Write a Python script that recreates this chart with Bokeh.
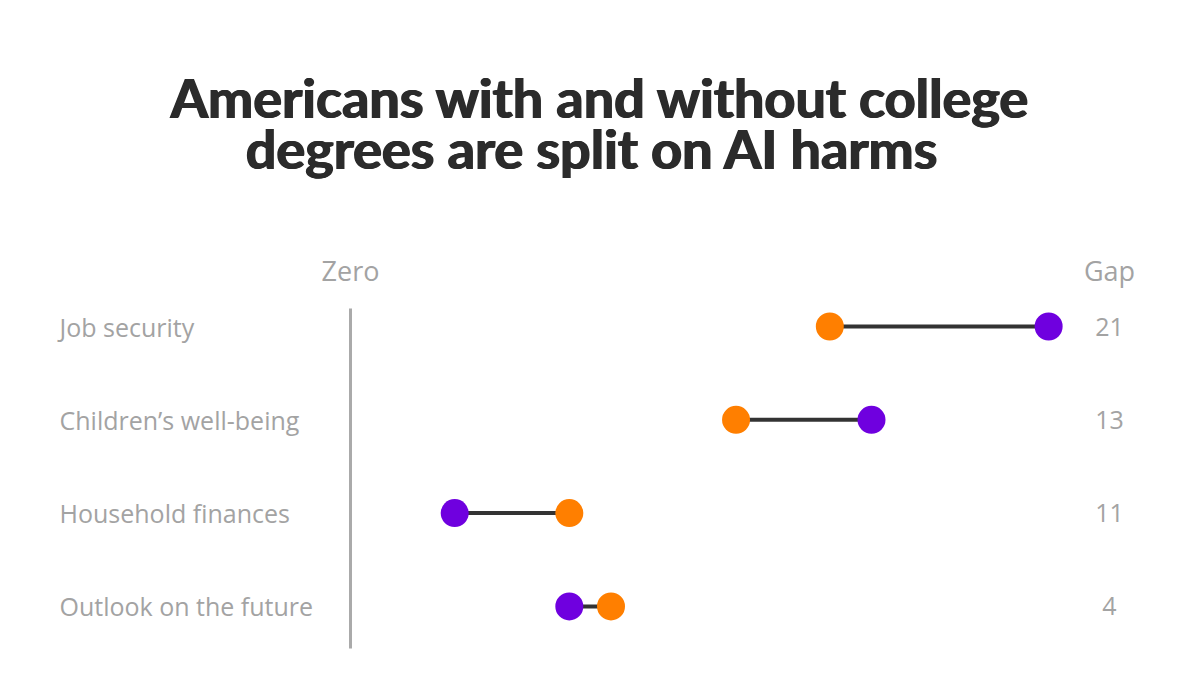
from bokeh.plotting import figure
from bokeh.models import Range1d, ColumnDataSource
from bokeh.core.properties import value
from bokeh.embed import file_html
from bokeh.resources import INLINE

# Data
categories = ["Job security", "Children\u2019s well-being", "Household finances", "Outlook on the future"]
orange_vals = [46, 37, 21, 25]
purple_vals = [67, 50, 10, 21]
gaps = [abs(a - b) for a, b in zip(orange_vals, purple_vals)]

W, H = 1200, 675
ZERO_PX = 350
PX_PER_UNIT = 10.42
ROW0, ROW_STEP = 326, 93.3

x0 = -ZERO_PX / PX_PER_UNIT
x1 = (W - ZERO_PX) / PX_PER_UNIT


def px(x):
    """Convert a horizontal pixel position into data units."""
    return (x - ZERO_PX) / PX_PER_UNIT


p = figure(width=W, height=H, output_backend="svg", toolbar_location=None,
           x_range=Range1d(x0, x1), y_range=Range1d(H, 0),
           min_border=0, outline_line_color=None)
p.axis.visible = False
p.grid.visible = False
p.background_fill_color = "white"
p.border_fill_color = "white"

rows = [ROW0 + i * ROW_STEP for i in range(len(categories))]
src = ColumnDataSource(dict(cat=categories, y=rows, o=orange_vals, pu=purple_vals,
                            gap=[str(g) for g in gaps]))

GRAY = "#a3a3a3"
FONT = value("Open Sans")

# title, stamped with small horizontal offsets for a heavier weight
for dx in (-0.8, 0, 0.8):
    p.text(x=[px(600), px(592)], y=[97, 148],
           text=["Americans with and without college", "degrees are split on AI harms"],
           text_font=value("Lato"), text_font_style="bold", text_font_size="54px",
           text_color="#2b2b2b", text_align="center", text_baseline="middle",
           x_offset=dx)

# zero line
p.segment(x0=[0], x1=[0], y0=[308], y1=[648], line_color="#aaaaaa", line_width=3)

# column headers
p.text(x=[0], y=[270], text=["Zero"], text_font=FONT, text_font_size="27px",
       text_color=GRAY, text_align="center", text_baseline="middle")
gap_x = px(1109)
p.text(x=[gap_x], y=[270], text=["Gap"], text_font=FONT, text_font_size="27px",
       text_color=GRAY, text_align="center", text_baseline="middle")

# category labels
p.text(x=px(59), y="y", text="cat", source=src, text_font=FONT, text_font_size="25px",
       text_color=GRAY, text_align="left", text_baseline="middle")

# gap values
p.text(x=gap_x, y="y", text="gap", source=src, text_font=FONT, text_font_size="25px",
       text_color=GRAY, text_align="center", text_baseline="middle")

# dumbbells
p.segment(x0="o", x1="pu", y0="y", y1="y", source=src, line_color="#333333", line_width=4)
p.scatter(x="o", y="y", source=src, size=28, fill_color="#FF7F00", line_color=None)
p.scatter(x="pu", y="y", source=src, size=28, fill_color="#6F00DF", line_color=None)

open("out.html", "w").write(file_html(p, INLINE))
